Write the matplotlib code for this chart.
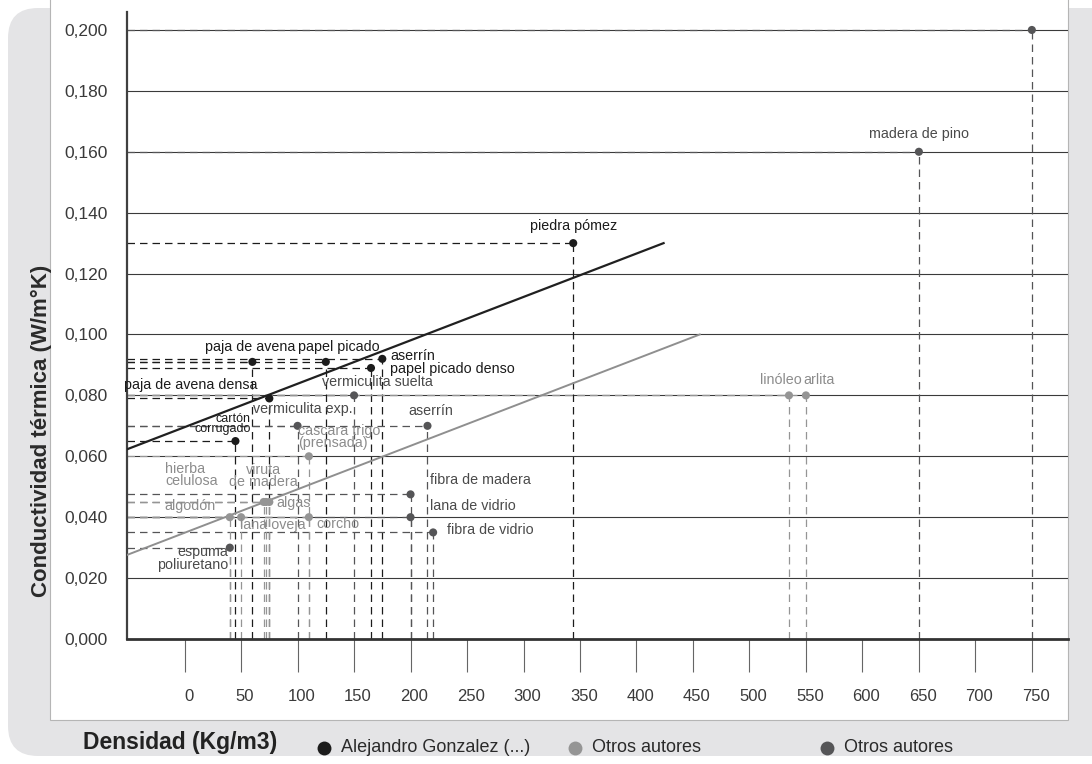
import numpy as np
import matplotlib
matplotlib.use("Agg")
import matplotlib.pyplot as plt
from matplotlib.patches import FancyBboxPatch, Rectangle
from matplotlib.lines import Line2D
from matplotlib.ticker import FuncFormatter
from matplotlib.transforms import ScaledTranslation

# datos
materiales = ['paja de avena', 'papel picado', 'aserrín', 'papel picado denso',
              'paja de avena densa', 'cartón\ncorrugado', 'piedra pómez',
              'vermiculita suelta', 'vermiculita exp.', 'aserrín', 'fibra de madera',
              'lana de vidrio', 'fibra de vidrio', 'madera de pino', '',
              'espuma\npoliuretano', 'cascara trigo\n(prensada)', 'hierba\ncelulosa',
              'viruta\nde madera', 'algas', 'algodón', 'lana oveja', 'corcho',
              'linóleo', 'arlita']
densidad = [60, 125, 175, 165, 75, 45, 344,
            150, 100, 215, 200, 200, 220, 650, 750, 40,
            110, 72, 70, 75, 40, 50, 110, 535, 550]
conductividad = [0.091, 0.091, 0.092, 0.089, 0.079, 0.065, 0.130,
                 0.080, 0.070, 0.070, 0.0475, 0.040, 0.035, 0.160, 0.200, 0.030,
                 0.060, 0.045, 0.045, 0.045, 0.040, 0.040, 0.040, 0.080, 0.080]
fuente = ['A'] * 7 + ['C'] * 9 + ['B'] * 9

# rectas de tendencia (extremos)
recta_A_x = [-51, 424]
recta_A_y = [0.0623, 0.130]
recta_B_x = [-51, 456]
recta_B_y = [0.0276, 0.100]

y_ticks = np.arange(0, 0.2001, 0.02)
x_ticks = np.arange(0, 751, 50)

leyenda = ['Alejandro Gonzalez (...)', 'Otros autores', 'Otros autores']

# estilos
col_punto = {'A': '#1c1c1c', 'B': '#959595', 'C': '#555557'}
col_texto = {'A': '#1b1b1b', 'B': '#8c8c8c', 'C': '#4a4a4a'}
# desplazamiento de las etiquetas (pixeles) y alineacion
desp = [(-2, 15, 'center'), (13, 15, 'center'), (8, 3, 'left'), (19, -1, 'left'),
        (-12, 13, 'right'), (15, 17, 'right'), (0, 17, 'center'),
        (-32, 13, 'left'), (5, 17, 'center'), (3, 15, 'center'), (19, 14, 'left'),
        (19, 11, 'left'), (14, 2, 'left'), (0, 18, 'center'), (0, 0, 'center'),
        (-2, -11, 'right'), (-11, 19, 'left'), (-101, 27, 'left'),
        (0, 26, 'center'), (7, -1, 'left'), (-14, 11, 'right'), (-1, -8, 'left'),
        (8, -7, 'left'), (-8, 15, 'center'), (13, 15, 'center')]

fam = ['Liberation Sans', 'DejaVu Sans']
W, H = 1092, 764

fig = plt.figure(figsize=(W / 100, H / 100), dpi=100)
fig.patch.set_facecolor('white')

# fondo gris redondeado + panel blanco (en pulgadas)
fig.add_artist(FancyBboxPatch((0.08, 0.08), 11.5, (H - 16) / 100,
                              boxstyle='round,pad=0,rounding_size=0.3',
                              transform=fig.dpi_scale_trans, fc='#e4e4e6', ec='none', zorder=-3))
fig.add_artist(Rectangle((0.50, (H - 720) / 100), 10.18, 8,
                         transform=fig.dpi_scale_trans, fc='white', ec='#b5b5b5', lw=0.8, zorder=-2))

ax = fig.add_axes([127 / W, 1 - 639 / H, (1068 - 127) / W, (639 - 12) / H])
ax.set_facecolor('none')
ax.set_xlim(-51, 782)
ax.set_ylim(0, 0.2059)

# rejilla horizontal
for v in y_ticks[1:]:
    ax.axhline(v, color='#3a3a3a', lw=0.8, zorder=1)

# lineas de referencia discontinuas
for x, y, f in zip(densidad, conductividad, fuente):
    c = col_punto[f]
    ax.plot([x, x], [0, y], color=c, lw=0.9, ls=(0, (6, 4)), zorder=2)
    ax.plot([-51, x], [y, y], color=c, lw=0.9, ls=(0, (6, 4)), zorder=2)

# rectas de tendencia
ax.plot(recta_A_x, recta_A_y, color='#202020', lw=1.6, zorder=3)
ax.plot(recta_B_x, recta_B_y, color='#8f8f8f', lw=1.4, zorder=3)

# puntos
ax.scatter(densidad, conductividad, s=34, c=[col_punto[f] for f in fuente],
           zorder=4, linewidths=0)

# etiquetas
for i, (nom, x, y, f) in enumerate(zip(materiales, densidad, conductividad, fuente)):
    if not nom:
        continue
    dx, dy, ha = desp[i]
    fs = 9 if 'cartón' in nom else 10.3
    ax.annotate(nom, (x, y), xytext=(dx, dy), textcoords='offset pixels',
                ha=ha, va='center', multialignment=ha,
                fontsize=fs, color=col_texto[f], family=fam,
                linespacing=0.85, zorder=5)

# ejes
for s in ['top', 'right']:
    ax.spines[s].set_visible(False)
ax.spines['left'].set_color('#404040')
ax.spines['left'].set_linewidth(1.6)
ax.spines['bottom'].set_color('#333333')
ax.spines['bottom'].set_linewidth(2)

ax.set_yticks(y_ticks)
ax.yaxis.set_major_formatter(FuncFormatter(lambda v, p: f'{v:.3f}'.replace('.', ',')))
ax.tick_params(axis='y', length=0, pad=14, labelsize=12.5, labelcolor='#3a3a3a')
for t in ax.get_yticklabels():
    t.set_family(fam)

ax.set_xticks(x_ticks)
ax.set_xticklabels([str(v) for v in x_ticks])
ax.tick_params(axis='x', length=24, width=0.8, color='#666666', pad=12,
               labelsize=12, labelcolor='#3a3a3a')
for t in ax.get_xticklabels():
    t.set_family(fam)
    t.set_transform(t.get_transform() + ScaledTranslation(0.04, 0, fig.dpi_scale_trans))

# titulos de ejes
fig.text(41 / W, 1 - 431 / H, 'Conductividad térmica (W/m°K)', rotation=90,
         ha='center', va='center', fontsize=16, fontweight='bold', color='#2a2a2a',
         family=fam)
fig.text(83 / W, 1 - 743 / H, 'Densidad (Kg/m3)', ha='left', va='center',
         fontsize=16.5, fontweight='bold', color='#222222', family=fam)

# leyenda
ley_x = [324, 575, 827]
for xp, txt, f in zip(ley_x, leyenda, ['A', 'B', 'C']):
    fig.add_artist(Line2D([xp / W], [1 - 748 / H], marker='o', ms=10,
                          color=col_punto[f], mec='none', transform=fig.transFigure))
    fig.text((xp + 17) / W, 1 - 748 / H, txt, ha='left', va='center',
             fontsize=13, color='#2a2a2a', family=fam)

fig.savefig('out.png', dpi=100)
